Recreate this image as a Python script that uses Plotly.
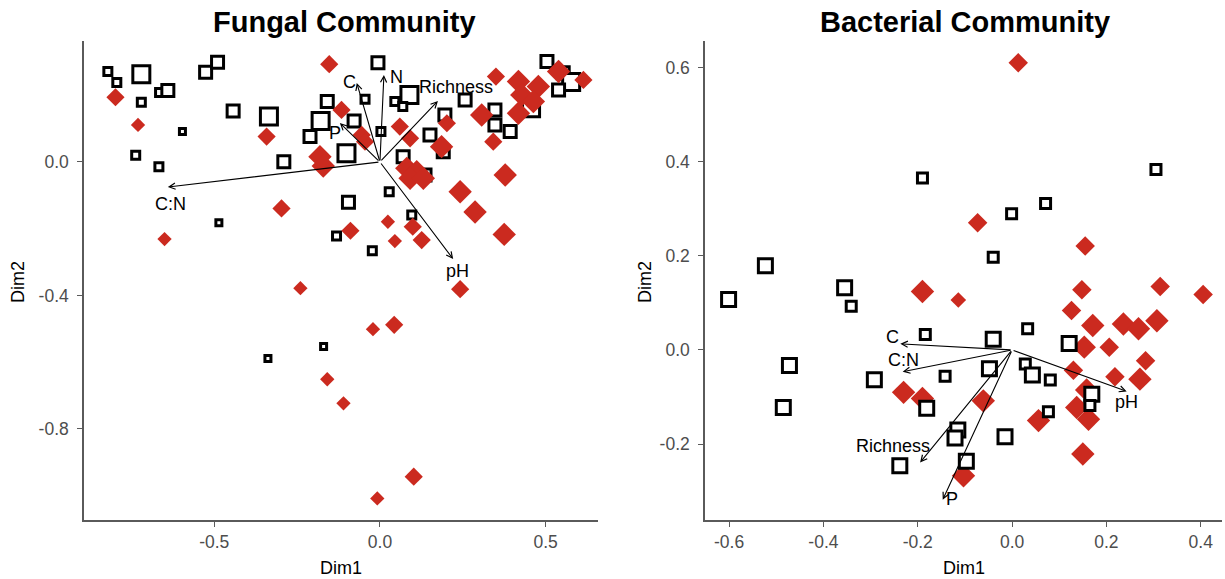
import plotly.graph_objects as go

# ---------------- DATA ----------------
# Fungal community: open squares (group A) and red diamonds (group B)
fungal_sq_x = [-0.821, -0.794, -0.720, -0.526, -0.490, -0.720, -0.665, -0.640, -0.443, -0.335,
               -0.596, -0.737, -0.667, -0.290, -0.159, -0.045, -0.179, -0.211, -0.078, -0.101,
               -0.006, 0.003, -0.095, -0.486, -0.131, 0.089, 0.045, 0.069, 0.257, 0.196,
               0.151, 0.070, 0.191, 0.136, 0.347, 0.347, 0.393, 0.456, 0.028, 0.096,
               0.504, 0.553, 0.577, 0.539, -0.023, -0.170, -0.338]
fungal_sq_y = [0.271, 0.238, 0.263, 0.269, 0.299, 0.179, 0.208, 0.214, 0.153, 0.136,
               0.091, 0.020, -0.014, 0.001, 0.181, 0.188, 0.123, 0.076, 0.123, 0.026,
               0.297, 0.091, -0.121, -0.182, -0.222, 0.201, 0.181, 0.166, 0.186, 0.141,
               0.081, 0.016, 0.031, -0.039, 0.156, 0.111, 0.091, 0.161, -0.089, -0.159,
               0.301, 0.267, 0.240, 0.216, -0.266, -0.553, -0.589]
fungal_sq_cls = [2, 2, 4, 3, 3, 2, 2, 3, 3, 4,
                 1, 2, 2, 3, 3, 2, 4, 3, 3, 4,
                 3, 2, 3, 1, 2, 4, 2, 2, 3, 3,
                 3, 3, 3, 3, 3, 3, 3, 4, 2, 2,
                 3, 3, 4, 3, 2, 1, 1]

fungal_dm_x = [-0.153, -0.798, -0.730, -0.342, -0.116, -0.055, -0.045, -0.181, -0.171, -0.297,
               -0.650, -0.089, 0.350, 0.418, 0.428, 0.478, 0.463, 0.539, 0.614, 0.307,
               0.418, 0.342, 0.060, 0.091, 0.202, 0.186, 0.081, 0.111, 0.091, 0.131,
               0.378, 0.242, 0.287, 0.375, 0.024, 0.099, 0.045, 0.126, 0.242, -0.240,
               -0.021, 0.043, -0.159, -0.110, 0.102, -0.008]
fungal_dm_y = [0.293, 0.194, 0.111, 0.076, 0.156, 0.081, 0.061, 0.016, -0.012, -0.139,
               -0.231, -0.206, 0.256, 0.241, 0.201, 0.226, 0.181, 0.271, 0.246, 0.141,
               0.146, 0.061, 0.106, 0.071, 0.116, 0.046, -0.019, -0.029, -0.049, -0.049,
               -0.039, -0.089, -0.150, -0.217, -0.179, -0.194, -0.237, -0.234, -0.381, -0.378,
               -0.501, -0.488, -0.651, -0.723, -0.943, -1.008]
fungal_dm_cls = [2, 2, 1, 2, 2, 2, 2, 3, 3, 2,
                 1, 2, 2, 3, 3, 3, 3, 3, 2, 3,
                 3, 2, 2, 2, 2, 3, 3, 3, 3, 3,
                 3, 3, 3, 3, 1, 2, 1, 2, 2, 1,
                 1, 2, 1, 1, 2, 1]

fungal_vec_names = ["C:N", "C", "N", "Richness", "P", "pH"]
fungal_vec_x = [-0.640, -0.070, 0.012, 0.175, -0.121, 0.221]
fungal_vec_y = [-0.075, 0.237, 0.261, 0.183, 0.117, -0.291]
fungal_lab_x = [-0.632, -0.091, 0.050, 0.231, -0.136, 0.235]
fungal_lab_y = [-0.126, 0.241, 0.256, 0.224, 0.086, -0.326]

# Bacterial community
bact_sq_x = [-0.190, -0.523, -0.601, -0.355, -0.341, -0.184, -0.472, -0.292, -0.485, -0.142,
             -0.181, -0.115, -0.121, -0.238, -0.097, 0.305, 0.071, -0.001, -0.040, -0.040,
             -0.048, 0.033, 0.028, 0.043, 0.081, 0.121, 0.169, 0.077, -0.015, 0.165]
bact_sq_y = [0.365, 0.179, 0.107, 0.132, 0.093, 0.033, -0.033, -0.063, -0.122, -0.056,
             -0.124, -0.170, -0.187, -0.246, -0.236, 0.383, 0.311, 0.289, 0.197, 0.023,
             -0.040, 0.045, -0.030, -0.053, -0.064, 0.014, -0.094, -0.131, -0.184, -0.118]
bact_sq_cls = [1, 2, 2, 2, 1, 1, 2, 2, 2, 1,
               2, 2, 2, 2, 2, 1, 1, 1, 1, 2,
               2, 1, 1, 2, 1, 2, 2, 1, 2, 1]

bact_dm_x = [0.013, -0.073, 0.155, -0.190, -0.114, 0.148, 0.314, 0.405, 0.126, 0.171,
             0.236, 0.268, 0.307, 0.153, 0.206, 0.283, 0.130, 0.218, 0.271, 0.158,
             0.137, 0.162, 0.056, -0.061, -0.230, -0.190, -0.103, 0.150]
bact_dm_y = [0.610, 0.270, 0.221, 0.124, 0.106, 0.128, 0.135, 0.118, 0.084, 0.052,
             0.055, 0.045, 0.062, 0.006, 0.006, -0.023, -0.043, -0.057, -0.062, -0.085,
             -0.122, -0.147, -0.150, -0.108, -0.090, -0.103, -0.267, -0.221]
bact_dm_cls = [2, 2, 2, 3, 1, 2, 2, 2, 2, 3,
               3, 3, 3, 3, 2, 2, 2, 2, 3, 3,
               3, 3, 3, 3, 3, 3, 3, 3]

bact_vec_names = ["C", "C:N", "Richness", "P", "pH"]
bact_vec_x = [-0.237, -0.232, -0.195, -0.147, 0.243]
bact_vec_y = [0.013, -0.046, -0.239, -0.318, -0.088]
bact_lab_x = [-0.253, -0.230, -0.253, -0.128, 0.243]
bact_lab_y = [0.027, -0.021, -0.204, -0.317, -0.111]

titles = ["Fungal Community", "Bacterial Community"]

# ---------------- STYLE ----------------
RED = "#CB2A1F"
FONT = "Liberation Sans, Arial, sans-serif"
TICK_COLOR = "#4D4D4D"
AXIS_COLOR = "#5A5A5A"
L_SQ = {1: 6, 2: 8, 3: 12, 4: 17}
L_DM = {1: 11, 2: 14, 3: 18}
R_SQ = {1: 10, 2: 14}
R_DM = {1: 12, 2: 15, 3: 18}

fig = go.Figure()


def add_squares(xs, ys, cls, smap, xa, ya):
    fig.add_trace(go.Scatter(
        x=xs, y=ys, mode="markers", xaxis=xa, yaxis=ya, showlegend=False,
        marker=dict(symbol="square", size=[smap[c] for c in cls], color="white", opacity=1,
                    line=dict(color="black", width=3)),
        hoverinfo="skip"))


def add_diamonds(xs, ys, cls, smap, xa, ya):
    fig.add_trace(go.Scatter(
        x=xs, y=ys, mode="markers", xaxis=xa, yaxis=ya, showlegend=False,
        marker=dict(symbol="diamond", size=[smap[c] for c in cls], color=RED, opacity=1,
                    line=dict(width=0)),
        hoverinfo="skip"))


# left panel: squares then diamonds
add_squares(fungal_sq_x, fungal_sq_y, fungal_sq_cls, L_SQ, "x", "y")
add_diamonds(fungal_dm_x, fungal_dm_y, fungal_dm_cls, L_DM, "x", "y")
# right panel: diamonds then squares
add_diamonds(bact_dm_x, bact_dm_y, bact_dm_cls, R_DM, "x2", "y2")
add_squares(bact_sq_x, bact_sq_y, bact_sq_cls, R_SQ, "x2", "y2")

annotations = []


def add_vectors(names, vx, vy, lx, ly, xref, yref):
    for n, x, y, tx, ty in zip(names, vx, vy, lx, ly):
        annotations.append(dict(
            x=x, y=y, ax=0, ay=0, xref=xref, yref=yref, axref=xref, ayref=yref,
            text="", showarrow=True, arrowhead=5, arrowsize=1.1, arrowwidth=1.1,
            arrowcolor="black", standoff=0, startstandoff=0))
        annotations.append(dict(
            x=tx, y=ty, xref=xref, yref=yref, text=n, showarrow=False,
            font=dict(family=FONT, size=18, color="black")))


add_vectors(fungal_vec_names, fungal_vec_x, fungal_vec_y, fungal_lab_x, fungal_lab_y, "x", "y")
add_vectors(bact_vec_names, bact_vec_x, bact_vec_y, bact_lab_x, bact_lab_y, "x2", "y2")

# titles and axis titles
for t, cx, dx in zip(titles, [344.5 / 1225, 965 / 1225], [341 / 1225, 963.5 / 1225]):
    annotations.append(dict(x=cx, y=1 - 22 / 579, xref="paper", yref="paper", text="<b>%s</b>" % t,
                            showarrow=False, font=dict(family=FONT, size=29, color="black"),
                            xanchor="center", yanchor="middle"))
    annotations.append(dict(x=dx, y=1 - 568 / 579, xref="paper", yref="paper", text="Dim1",
                            showarrow=False, font=dict(family=FONT, size=18, color="black"),
                            xanchor="center", yanchor="middle"))
for px in [18, 645]:
    annotations.append(dict(x=px / 1225, y=1 - 282 / 579, xref="paper", yref="paper", text="Dim2",
                            textangle=-90, showarrow=False,
                            font=dict(family=FONT, size=18, color="black"),
                            xanchor="center", yanchor="middle"))

ydom = [(579 - 520) / 579, (579 - 41) / 579]
axis_common = dict(showline=True, linecolor=AXIS_COLOR, linewidth=1.5, ticks="outside", ticklen=5,
                   tickcolor=AXIS_COLOR, tickwidth=1.2, showgrid=False, zeroline=False,
                   tickfont=dict(family=FONT, size=17.5, color=TICK_COLOR), mirror=False)

fig.update_layout(
    width=1225, height=579, margin=dict(l=0, r=0, t=0, b=0),
    paper_bgcolor="white", plot_bgcolor="white",
    xaxis=dict(domain=[84 / 1225, 598 / 1225], range=[-0.893, 0.658], anchor="y",
               tickvals=[-0.5, 0.0, 0.5], ticktext=["-0.5", "0.0", "0.5"], **axis_common),
    yaxis=dict(domain=ydom, range=[-1.0727, 0.3625], anchor="x",
               tickvals=[0.0, -0.4, -0.8], ticktext=["0.0", "-0.4", "-0.8"],
               ticklabelstandoff=5, **axis_common),
    xaxis2=dict(domain=[705 / 1225, 1222 / 1225], range=[-0.651, 0.445], anchor="y2",
                tickvals=[-0.6, -0.4, -0.2, 0.0, 0.2, 0.4],
                ticktext=["-0.6", "-0.4", "-0.2", "0.0", "0.2", "0.4"], **axis_common),
    yaxis2=dict(domain=ydom, range=[-0.361, 0.656], anchor="x2",
                tickvals=[-0.2, 0.0, 0.2, 0.4, 0.6],
                ticktext=["-0.2", "0.0", "0.2", "0.4", "0.6"],
                ticklabelstandoff=5, **axis_common),
    annotations=annotations,
)

fig.write_html("out.html")
